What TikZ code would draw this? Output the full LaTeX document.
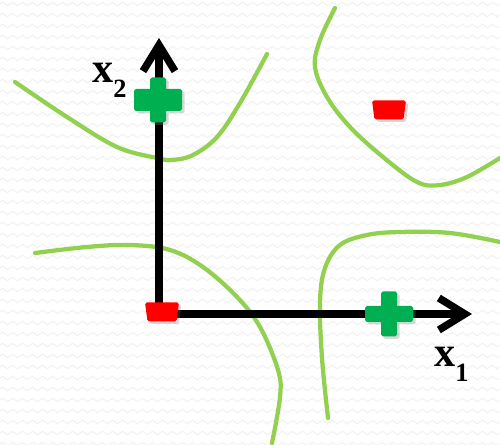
\documentclass[tikz,border=0pt]{standalone}
\usepackage{fontspec}
\setmainfont{Liberation Serif}
\usetikzlibrary{arrows.meta, shadows, decorations.pathmorphing}

\definecolor{boundgreen}{RGB}{146, 208, 80}
\definecolor{plusgreen}{RGB}{0, 176, 80}
\definecolor{minusred}{RGB}{255, 0, 0}
\definecolor{bgzig}{RGB}{241, 241, 241}

\tikzset{
  axis/.style={line width=0.15cm, black, {Straight Barb[length=0.52cm, width=0.64cm]}-{Straight Barb[length=0.52cm, width=0.64cm]}},
  boundary/.style={line width=0.085cm, boundgreen, line cap=round},
  marker/.style={drop shadow={shadow xshift=0.05cm, shadow yshift=-0.05cm, opacity=0.3}},
  axislabel/.style={inner sep=0pt, anchor=base west, font=\fontsize{24}{24}\selectfont\bfseries},
}

% plus sign: #1 = centre, #2 = thickness of the horizontal bar (px)
\newcommand{\plussign}[2]{%
  \begin{scope}[shift={#1}]
    \fill[plusgreen, marker, rounded corners=1] (-8,-22.5) rectangle (8,22.5)
      (-24,-#2/2) rectangle (24,#2/2);
  \end{scope}}
% minus sign as a small trapezoid
\newcommand{\minussign}[1]{%
  \begin{scope}[shift={#1}]
    \fill[minusred, marker, rounded corners=1] (-17,-9.5) -- (17,-9.5) -- (14.5,9.5) -- (-14.5,9.5) -- cycle;
  \end{scope}}

\newcommand{\subtwo}[1]{\raisebox{-0.34em}{\fontsize{15}{15}\selectfont #1}}

\begin{document}
\begin{tikzpicture}[x=0.02cm, y=-0.02cm]
  \useasboundingbox (0,0) rectangle (500,445);

  % faint zigzag paper
  \foreach \r in {4,15,...,445}
    \draw[bgzig, line width=0.6pt, decorate, decoration={zigzag, segment length=0.2cm, amplitude=0.035cm}] (0,\r) -- (500,\r);

  % decision boundaries
  \draw[boundary] plot[smooth, tension=0.6] coordinates {(15,82) (67,117) (117,147) (157,158) (172,160) (193,155) (217,137) (240,103) (267,54)};
  \draw[boundary] plot[smooth, tension=0.6] coordinates {(335,8) (320,40) (315,67) (327,97) (350,127) (383,157) (417,182) (440,185) (467,177) (500,158)};
  \draw[boundary] plot[smooth, tension=0.6] coordinates {(35,253) (87,247) (130,245) (170,250) (203,267) (237,297) (260,327) (278,370) (280,397) (272,443)};
  \draw[boundary] plot[smooth, tension=0.6] coordinates {(328,418) (322,358) (320,302) (325,268) (340,245) (367,235) (400,232) (450,233) (500,242)};

  % axes
  \coordinate (O) at (159,314);
  \coordinate (X) at (472,314);
  \coordinate (Y) at (159,38);
  \draw[axis] (Y) -- (O) -- (X);
  \node[axislabel] (xtwo) at (92,83) {x\subtwo{2}};
  \node[axislabel] (xone) at (434,367) {x\subtwo{1}};

  % samples
  \plussign{(158,100)}{22}
  \plussign{(389,314)}{16}
  \minussign{(389,110)}
  \minussign{(162,312)}
\end{tikzpicture}
\end{document}
